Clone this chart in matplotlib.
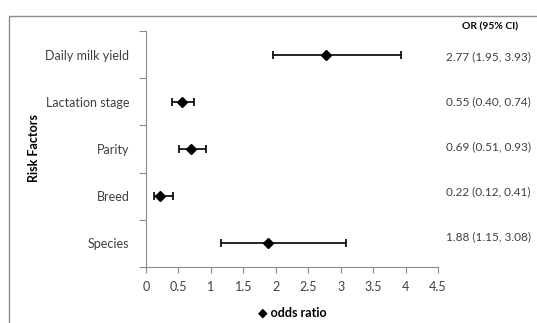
import matplotlib.pyplot as plt
from matplotlib.patches import Rectangle

# data
factors = ["Daily milk yield", "Lactation stage", "Parity", "Breed", "Species"]
odds = [2.77, 0.55, 0.69, 0.22, 1.88]
ci_low = [1.95, 0.40, 0.51, 0.12, 1.15]
ci_high = [3.93, 0.74, 0.93, 0.41, 3.08]
or_labels = ["2.77 (1.95, 3.93)", "0.55 (0.40, 0.74)", "0.69 (0.51, 0.93)",
             "0.22 (0.12, 0.41)", "1.88 (1.15, 3.08)"]
x_ticks = [0, 0.5, 1, 1.5, 2, 2.5, 3, 3.5, 4, 4.5]

plt.rcParams['font.family'] = ['Lato', 'DejaVu Sans']
grey = '#404040'
axis_col = '#8c8c8c'

W, H = 537, 323
fig = plt.figure(figsize=(W / 100, H / 100), dpi=100)
ax = fig.add_axes([146 / W, 1 - 267 / H, (438 - 146) / W, (267 - 31) / H])

# outer chart border (cut by the image edge at right and bottom)
fig.patches.append(Rectangle((9 / W, -0.1), 1.2, 1 - 16 / H + 0.1,
                             transform=fig.transFigure, fill=False,
                             edgecolor=axis_col, linewidth=1.0))

n = len(factors)
ypos = [n - 1 - i for i in range(n)]
xerr = [[o - l for o, l in zip(odds, ci_low)], [h - o for o, h in zip(odds, ci_high)]]
ax.errorbar(odds, ypos, xerr=xerr, fmt='D', color='black', markersize=5.5,
            ecolor='black', elinewidth=1.2, capsize=3, capthick=1.2)

ax.set_xlim(0, 4.5)
ax.set_ylim(-0.5, n - 0.5)
ax.set_xticks(x_ticks)
ax.set_xticklabels([f"{t:g}" for t in x_ticks], fontsize=9, color=grey)
ax.tick_params(axis='x', direction='out', length=4, color=axis_col, pad=6)

ax.set_yticks([i - 0.5 for i in range(n + 1)])
ax.set_yticklabels([])
ax.set_yticks(ypos, minor=True)
ax.set_yticklabels(factors, minor=True, fontsize=9, color=grey)
ax.tick_params(axis='y', which='major', direction='out', length=5, color=axis_col)
ax.tick_params(axis='y', which='minor', length=0, pad=12)

for s in ['top', 'right']:
    ax.spines[s].set_visible(False)
for s in ['left', 'bottom']:
    ax.spines[s].set_color(axis_col)

ax.set_xlabel("\u25c6 odds ratio", fontsize=9, fontweight='bold', color='black', labelpad=10)
fig.text(34 / W, 1 - 148 / H, "Risk Factors", rotation=90, ha='center', va='center',
         fontsize=9, fontweight='bold', color='black')

# OR column
fig.text(490 / W, 1 - 27 / H, "OR (95% CI)", ha='center', va='center',
         fontsize=7.5, fontweight='bold', color='black')
for i, lab in enumerate(or_labels):
    fig.text(531 / W, 1 - (57 + 45 * i) / H, lab, ha='right', va='center',
             fontsize=8.5, color=grey)

fig.savefig("out.png", dpi=100)
